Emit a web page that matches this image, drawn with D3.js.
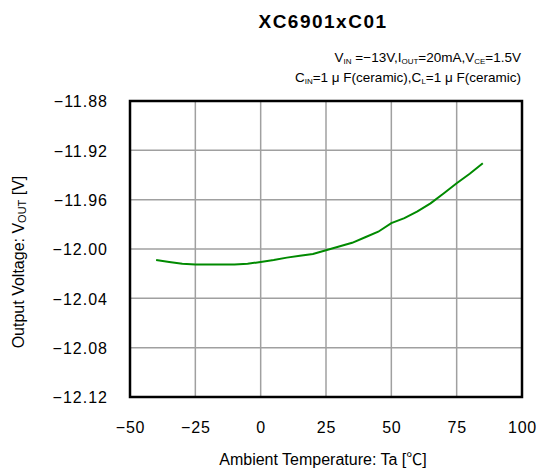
<!DOCTYPE html>
<html><head><meta charset="utf-8">
<script src="https://cdn.jsdelivr.net/npm/d3@7"></script>
<style>body{margin:0;background:#fff}svg{display:block}text{font-family:"Liberation Sans","Noto Sans CJK JP",sans-serif;fill:#000}</style>
</head><body><svg id="c" width="541" height="473"></svg>
<script>
const temps = [-40,-35,-30,-25,-20,-15,-10,-5,0,5,10,15,20,25,30,35,40,45,50,55,60,65,70,75,80,85];
const vout = [-12.009,-12.0105,-12.012,-12.0125,-12.0125,-12.0125,-12.0125,-12.012,-12.0105,-12.009,-12.007,-12.0055,-12.004,-12.001,-11.998,-11.995,-11.9905,-11.986,-11.979,-11.975,-11.9695,-11.963,-11.955,-11.9467,-11.939,-11.9305];
const xTicks = [-50,-25,0,25,50,75,100];
const yTicks = [-11.88,-11.92,-11.96,-12.00,-12.04,-12.08,-12.12];

const svg = d3.select("#c");
const L=130,R=522,T=101,B=397;
const x = d3.scaleLinear().domain([-50,100]).range([L,R]);
const y = d3.scaleLinear().domain([-12.12,-11.88]).range([B,T]);

svg.append("g").selectAll("line").data(xTicks.slice(1,-1)).join("line")
  .attr("x1",d=>x(d)).attr("x2",d=>x(d)).attr("y1",T).attr("y2",B)
  .attr("stroke","#a0a0a0").attr("stroke-width",1.5);
svg.append("g").selectAll("line").data(yTicks.slice(1,-1)).join("line")
  .attr("y1",d=>y(d)).attr("y2",d=>y(d)).attr("x1",L).attr("x2",R)
  .attr("stroke","#a0a0a0").attr("stroke-width",1.5);

svg.append("path").datum(temps.map((t,i)=>[t,vout[i]]))
  .attr("fill","none").attr("stroke","#008a00").attr("stroke-width",2)
  .attr("d",d3.line().x(d=>x(d[0])).y(d=>y(d[1])));

svg.append("rect").attr("x",L).attr("y",T).attr("width",R-L).attr("height",B-T)
  .attr("fill","none").attr("stroke","#000").attr("stroke-width",2.5);

const xa = d3.axisBottom(x).tickValues(xTicks).tickSize(0).tickPadding(0)
  .tickFormat(d=>d<0?"\u2212"+Math.abs(d):d);
const gx = svg.append("g").attr("transform",`translate(0,${B})`).call(xa);
gx.select(".domain").remove();
gx.selectAll("text").attr("dy",null).attr("y",36).style("font-size","16px").style("letter-spacing","0.8px").attr("fill","#000");

const ya = d3.axisLeft(y).tickValues(yTicks).tickSize(0).tickPadding(0)
  .tickFormat(d=>"\u2212"+Math.abs(d).toFixed(2));
const gy = svg.append("g").attr("transform",`translate(${L},0)`).call(ya);
gy.select(".domain").remove();
gy.selectAll("text").attr("x",-22).attr("dy","0.36em").style("font-size","16px").style("letter-spacing","1px").attr("fill","#000");

svg.append("text").attr("x",323).attr("y",28).attr("text-anchor","middle")
  .style("font-size","19px").style("font-weight","bold").style("letter-spacing","1.5px").text("XC6901xC01");

const c1 = svg.append("text").attr("x",521).attr("y",62).attr("text-anchor","end").style("font-size","13.5px");
c1.append("tspan").text("V");
c1.append("tspan").attr("dy",2).style("font-size","8px").text("IN");
c1.append("tspan").attr("dy",-2).text(" =\u221213V,I");
c1.append("tspan").attr("dy",2).style("font-size","8px").text("OUT");
c1.append("tspan").attr("dy",-2).text("=20mA,V");
c1.append("tspan").attr("dy",2).style("font-size","8px").text("CE");
c1.append("tspan").attr("dy",-2).text("=1.5V");

const c2 = svg.append("text").attr("x",521).attr("y",82).attr("text-anchor","end").style("font-size","13.5px");
c2.append("tspan").text("C");
c2.append("tspan").attr("dy",2).style("font-size","8px").text("IN");
c2.append("tspan").attr("dy",-2).text("=1 \u03bc F(ceramic),C");
c2.append("tspan").attr("dy",2).style("font-size","8px").text("L");
c2.append("tspan").attr("dy",-2).text("=1 \u03bc F(ceramic)");

svg.append("text").attr("x",323).attr("y",465).attr("text-anchor","middle")
  .style("font-size","16px").text("Ambient Temperature: Ta [\u2103]");

const yt = svg.append("text").attr("transform","translate(24,262) rotate(-90)")
  .attr("text-anchor","middle").style("font-size","16px");
yt.append("tspan").text("Output Voltage: V");
yt.append("tspan").attr("dy",2).style("font-size","11px").text("OUT");
yt.append("tspan").attr("dy",-2).text(" [V]");
</script></body></html>
